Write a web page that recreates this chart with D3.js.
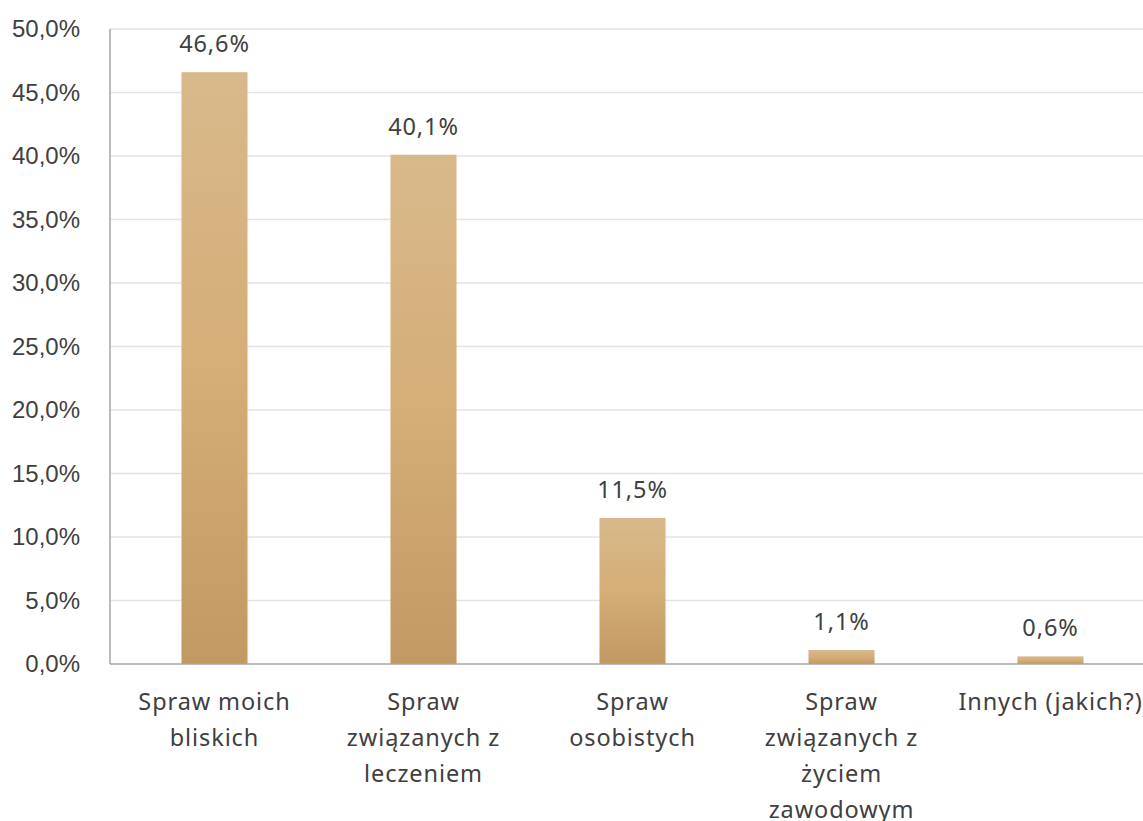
<!DOCTYPE html>
<html lang="pl">
<head>
<meta charset="utf-8">
<title>Wykres</title>
<script src="https://d3js.org/d3.v7.min.js"></script>
<style>
  body { margin: 0; background: #fff; }
  .grid line { stroke: #e3e3e3; stroke-width: 1.5; }
  .ytick { font-family: "Liberation Sans", Arial, sans-serif; font-size: 24px; fill: #404040; }
  .lbl { font-family: "Noto Sans", sans-serif; font-size: 23.5px; fill: #404040; letter-spacing: 0.9px; }
</style>
</head>
<body>
<div id="chart"></div>
<script>
// data
var categories = [
  ["Spraw moich", "bliskich"],
  ["Spraw", "związanych z", "leczeniem"],
  ["Spraw", "osobistych"],
  ["Spraw", "związanych z", "życiem", "zawodowym"],
  ["Innych (jakich?)"]
];
var values = [46.6, 40.1, 11.5, 1.1, 0.6];
var yTicks = [0, 5, 10, 15, 20, 25, 30, 35, 40, 45, 50];

var w = 1143, h = 821;
var plotLeft = 110, plotTop = 29, plotBottom = 664, plotRight = 1155;

var svg = d3.select("#chart").append("svg")
  .attr("width", w).attr("height", h);

var defs = svg.append("defs");
var grad = defs.append("linearGradient")
  .attr("id", "barGrad")
  .attr("x1", 0).attr("y1", 0).attr("x2", 0).attr("y2", 1);
grad.append("stop").attr("offset", "0%").attr("stop-color", "#d8b98b");
grad.append("stop").attr("offset", "50%").attr("stop-color", "#d5ad77");
grad.append("stop").attr("offset", "100%").attr("stop-color", "#c29962");

var x = d3.scaleBand()
  .domain(d3.range(values.length))
  .range([plotLeft, plotRight])
  .paddingInner(0.684)
  .paddingOuter(0.342);

var y = d3.scaleLinear().domain([0, 50]).range([plotBottom, plotTop]);

var fmt = function(v) { return d3.format(".1f")(v).replace(".", ",") + "%"; };

// gridlines
svg.append("g").attr("class", "grid")
  .selectAll("line")
  .data(yTicks.filter(function(d) { return d > 0; }))
  .enter().append("line")
  .attr("x1", plotLeft).attr("x2", w)
  .attr("y1", function(d) { return y(d); })
  .attr("y2", function(d) { return y(d); });

// y tick labels
svg.append("g").selectAll("text")
  .data(yTicks)
  .enter().append("text")
  .attr("class", "ytick")
  .attr("x", 80)
  .attr("y", function(d) { return y(d); })
  .attr("dy", "0.35em")
  .attr("text-anchor", "end")
  .text(fmt);

// bars
svg.append("g").selectAll("rect")
  .data(values)
  .enter().append("rect")
  .attr("x", function(d, i) { return x(i); })
  .attr("width", x.bandwidth())
  .attr("y", function(d) { return y(d); })
  .attr("height", function(d) { return y(0) - y(d); })
  .attr("fill", "url(#barGrad)");

// axis lines
svg.append("line")
  .attr("x1", plotLeft).attr("x2", plotLeft)
  .attr("y1", plotTop).attr("y2", plotBottom)
  .attr("stroke", "#a6a6a6").attr("stroke-width", 1.5);
svg.append("line")
  .attr("x1", plotLeft).attr("x2", w)
  .attr("y1", plotBottom).attr("y2", plotBottom)
  .attr("stroke", "#a6a6a6").attr("stroke-width", 1.5);

// value labels
svg.append("g").selectAll("text")
  .data(values)
  .enter().append("text")
  .attr("class", "lbl")
  .attr("x", function(d, i) { return x(i) + x.bandwidth() / 2; })
  .attr("y", function(d) { return y(d) - 20; })
  .attr("text-anchor", "middle")
  .text(fmt);

// category labels
var cat = svg.append("g").selectAll("text")
  .data(categories)
  .enter().append("text")
  .attr("class", "lbl")
  .attr("text-anchor", "middle")
  .attr("x", function(d, i) { return x(i) + x.bandwidth() / 2; })
  .attr("y", 710);
cat.selectAll("tspan")
  .data(function(d, i) { return d.map(function(t) { return { t: t, i: i }; }); })
  .enter().append("tspan")
  .attr("x", function(d) { return x(d.i) + x.bandwidth() / 2; })
  .attr("dy", function(d, j) { return j === 0 ? 0 : 36; })
  .text(function(d) { return d.t; });
</script>
</body>
</html>
